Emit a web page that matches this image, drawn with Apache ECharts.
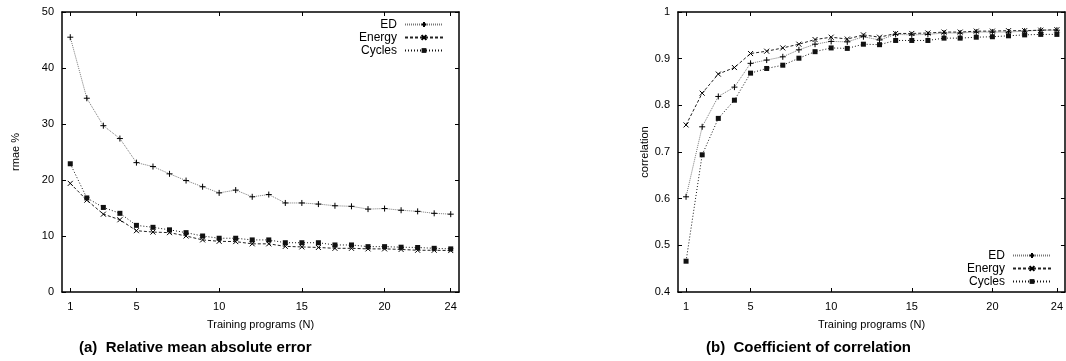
<!DOCTYPE html>
<html>
<head>
<meta charset="utf-8">
<script src="https://cdn.jsdelivr.net/npm/echarts@6/dist/echarts.min.js"></script>
<style>
  html, body { margin: 0; padding: 0; background: #fff; }
  #chart { width: 1066px; height: 361px; }
</style>
</head>
<body>
<div id="chart"></div>
<script>
// training programs N
const N = [1,2,3,4,5,6,7,8,9,10,11,12,13,14,15,16,17,18,19,20,21,22,23,24];
const xTicks = [1, 5, 10, 15, 20, 24];

// (a) rmae %
const rmaeED = [45.5,34.6,29.7,27.4,23.1,22.4,21.1,19.9,18.8,17.7,18.2,17.0,17.4,15.9,15.9,15.7,15.4,15.3,14.8,14.9,14.6,14.4,14.05,13.9];
const rmaeEnergy = [19.4,16.4,13.9,12.9,10.95,10.7,10.6,10.0,9.3,9.05,9.0,8.6,8.6,8.15,8.05,7.95,7.8,7.8,7.7,7.7,7.6,7.45,7.45,7.4];
const rmaeCycles = [22.9,16.8,15.1,14.05,11.9,11.55,11.1,10.6,10.0,9.6,9.6,9.3,9.3,8.8,8.8,8.8,8.4,8.4,8.1,8.1,8.0,7.95,7.8,7.7];

// (b) correlation
const corrED = [0.604,0.754,0.819,0.839,0.890,0.897,0.904,0.919,0.931,0.937,0.936,0.947,0.940,0.952,0.951,0.952,0.955,0.955,0.957,0.957,0.957,0.959,0.961,0.961];
const corrEnergy = [0.758,0.826,0.867,0.881,0.911,0.916,0.923,0.931,0.941,0.946,0.942,0.951,0.946,0.954,0.954,0.955,0.957,0.957,0.959,0.959,0.960,0.960,0.961,0.962];
const corrCycles = [0.466,0.694,0.772,0.811,0.869,0.879,0.886,0.901,0.915,0.923,0.922,0.931,0.930,0.939,0.939,0.939,0.944,0.944,0.946,0.947,0.949,0.951,0.952,0.952];

const pairs = vals => N.map((n, i) => [n, vals[i]]);

const font = 'Liberation Sans, Arial, sans-serif';
const axisLine = { show: true, onZero: false, lineStyle: { color: '#000', width: 1.5 } };
const tick = { show: true, inside: true, length: 4, lineStyle: { color: '#000', width: 1 } };

function xAxes(gridIndex) {
  return [{
    gridIndex, type: 'value', min: 0.5, max: 24.5, position: 'bottom',
    name: 'Training programs (N)', nameLocation: 'middle', nameGap: 27,
    nameTextStyle: { fontFamily: font, fontSize: 11, color: '#000' },
    axisLine, splitLine: { show: false },
    axisTick: Object.assign({ customValues: xTicks }, tick),
    axisLabel: { customValues: xTicks, fontFamily: font, fontSize: 11, color: '#000', margin: 9 }
  }, {
    gridIndex, type: 'value', min: 0.5, max: 24.5, position: 'top',
    axisLine, splitLine: { show: false },
    axisTick: Object.assign({ customValues: xTicks }, tick),
    axisLabel: { show: false }
  }];
}

function yAxes(gridIndex, min, max, interval, name, gap, fmt) {
  return [{
    gridIndex, type: 'value', min, max, interval, position: 'left',
    name, nameLocation: 'middle', nameGap: gap,
    nameTextStyle: { fontFamily: font, fontSize: 11, color: '#000' },
    axisLine, splitLine: { show: false }, axisTick: tick,
    axisLabel: { fontFamily: font, fontSize: 11, color: '#000', margin: 8, formatter: fmt }
  }, {
    gridIndex, type: 'value', min, max, interval, position: 'right',
    axisLine, splitLine: { show: false }, axisTick: tick,
    axisLabel: { show: false }
  }];
}

const plus = 'path://M0,5L10,5M5,0L5,10';
const cross = 'path://M0,0L10,10M10,0L0,10';

function series(xi, yi, ed, en, cy) {
  return [{
    name: 'ED', type: 'line', xAxisIndex: xi, yAxisIndex: yi, data: pairs(ed),
    symbol: plus, symbolSize: 6,
    itemStyle: { color: 'transparent', borderColor: '#000', borderWidth: 1 },
    lineStyle: { color: '#777', width: 1, type: [1, 1] }
  }, {
    name: 'Energy', type: 'line', xAxisIndex: xi, yAxisIndex: yi, data: pairs(en),
    symbol: cross, symbolSize: 5,
    itemStyle: { color: 'transparent', borderColor: '#000', borderWidth: 1 },
    lineStyle: { color: '#222', width: 1, type: [3, 2] }
  }, {
    name: 'Cycles', type: 'line', xAxisIndex: xi, yAxisIndex: yi, data: pairs(cy),
    symbol: 'rect', symbolSize: 5,
    itemStyle: { color: '#111' },
    lineStyle: { color: '#111', width: 1, type: [1, 2] }
  }];
}

function legend(right, top) {
  return {
    orient: 'vertical', align: 'right', right, top,
    itemWidth: 38, itemHeight: 6, itemGap: 0,
    data: ['ED', 'Energy', 'Cycles'],
    textStyle: { fontFamily: font, fontSize: 12, color: '#000', padding: [0, 3, 0, 0], lineHeight: 13 },
    selectedMode: false
  };
}

const chart = echarts.init(document.getElementById('chart'));
chart.setOption({
  animation: false,
  grid: [
    { left: 62, top: 12, width: 397, height: 280 },
    { left: 678, top: 12, width: 388, height: 280 }
  ],
  xAxis: [...xAxes(0), ...xAxes(1)],
  yAxis: [
    ...yAxes(0, 0, 50, 10, 'rmae %', 41, v => v),
    ...yAxes(1, 0.4, 1, 0.1, 'correlation', 28, v => +v.toFixed(1))
  ],
  legend: [legend(617, 13), legend(9, 244)],
  title: [
    { text: '(a)  Relative mean absolute error', left: 74, top: 335,
      textStyle: { fontFamily: font, fontSize: 15, fontWeight: 'bold', color: '#000' } },
    { text: '(b)  Coefficient of correlation', left: 701, top: 335,
      textStyle: { fontFamily: font, fontSize: 15, fontWeight: 'bold', color: '#000' } }
  ],
  series: [...series(0, 0, rmaeED, rmaeEnergy, rmaeCycles), ...series(2, 2, corrED, corrEnergy, corrCycles)]
});
</script>
</body>
</html>
